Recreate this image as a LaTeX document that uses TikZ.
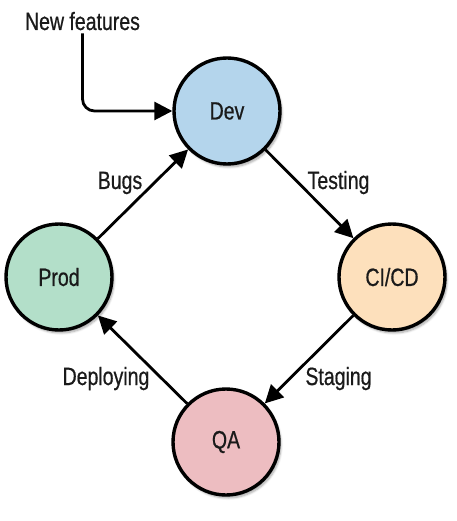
\documentclass[tikz,border=0pt]{standalone}
\usepackage{fontspec}
\setmainfont{Liberation Sans}[FakeStretch=0.78,FakeBold=0.6]
\usetikzlibrary{arrows.meta,shadows.blur}
\definecolor{devc}{HTML}{B4D5EC}
\definecolor{prodc}{HTML}{B3DFC9}
\definecolor{cicdc}{HTML}{FDE0BC}
\definecolor{qac}{HTML}{EDBDC1}
\definecolor{ink}{HTML}{1A1A1A}
\tikzset{
  stage/.style={circle, draw=black, line width=3.4pt, minimum size=106pt, inner sep=0pt,
    font=\fontsize{25}{28}\selectfont, text=ink,
    blur shadow={shadow xshift=2pt, shadow yshift=-3pt, shadow blur steps=6, shadow opacity=35}},
  lbl/.style={font=\fontsize{25}{28}\selectfont, text=ink, inner sep=0pt, anchor=base},
  arr/.style={line width=2.8pt, -{Triangle[length=18pt,width=18pt]}}
}
\begin{document}
\begin{tikzpicture}[x=1pt,y=-1pt]
\useasboundingbox (0,0) rectangle (456,521);
\node[stage, fill=devc] (dev) at (227,111) {Dev};
\node[stage, fill=prodc] (prod) at (59,277) {Prod};
\node[stage, fill=cicdc] (cicd) at (392,277) {CI/CD};
\node[stage, fill=qac] (qa) at (226,442) {QA};
\node[lbl] (nf) at (82.5,30) {New features};
\node[lbl] (bugs) at (120,189) {Bugs};
\node[lbl] (testing) at (338.5,189) {Testing};
\node[lbl] (deploying) at (106,385) {Deploying};
\node[lbl] (staging) at (338.5,385) {Staging};
\draw[arr, rounded corners=12pt] ([yshift=-3pt]nf.south) |- (dev.west);
\draw[arr] (prod) -- (dev);
\draw[arr] (dev) -- (cicd);
\draw[arr] (cicd) -- (qa);
\draw[arr] (qa) -- (prod);
\end{tikzpicture}
\end{document}
